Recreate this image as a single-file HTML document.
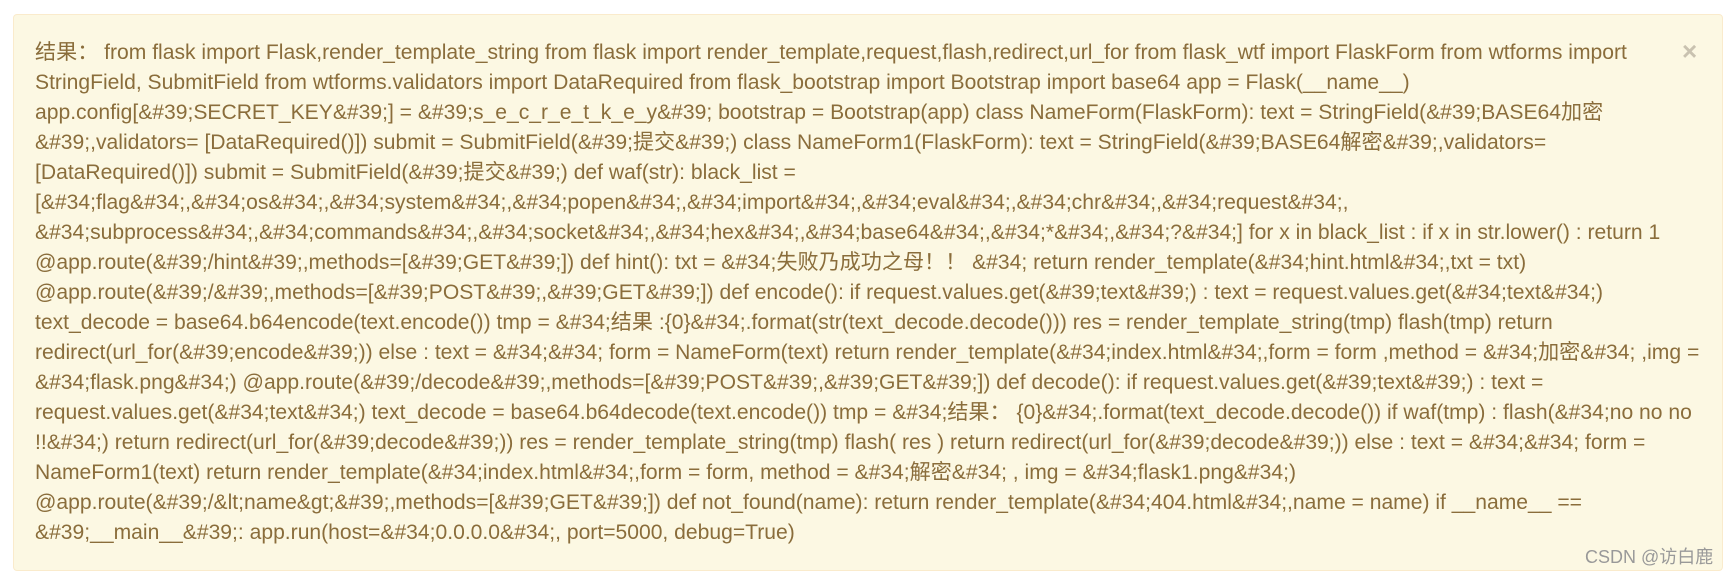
<!DOCTYPE html>
<html><head><meta charset="utf-8"><style>
html,body{margin:0;padding:0;background:#fff;width:1735px;height:573px;overflow:hidden}
.box{position:absolute;left:13px;top:14px;width:1710px;height:557px;background:#fcf8e3;border:1px solid #faebcc;border-radius:4px;box-sizing:border-box}
.t{position:absolute;left:35px;top:38px;font-family:"Liberation Sans","Noto Sans CJK SC",sans-serif;font-size:21.1px;line-height:30px;color:#8a6d3b;white-space:nowrap}
.x{position:absolute;left:1682px;top:36px;font-family:"Liberation Sans",sans-serif;font-size:26px;font-weight:bold;color:#c9c2b0}
.w{position:absolute;left:1585px;top:543px;font-family:"Liberation Sans","Noto Sans CJK SC",sans-serif;font-size:18px;color:#999}
</style></head><body>
<div class="box"></div>
<div class="x">×</div>
<div class="t">结果： from flask import Flask,render_template_string from flask import render_template,request,flash,redirect,url_for from flask_wtf import FlaskForm from wtforms import<br>
StringField, SubmitField from wtforms.validators import DataRequired from flask_bootstrap import Bootstrap import base64 app = Flask(__name__)<br>
app.config[&amp;#39;SECRET_KEY&amp;#39;] = &amp;#39;s_e_c_r_e_t_k_e_y&amp;#39; bootstrap = Bootstrap(app) class NameForm(FlaskForm): text = StringField(&amp;#39;BASE64加密<br>
&amp;#39;,validators= [DataRequired()]) submit = SubmitField(&amp;#39;提交&amp;#39;) class NameForm1(FlaskForm): text = StringField(&amp;#39;BASE64解密&amp;#39;,validators=<br>
[DataRequired()]) submit = SubmitField(&amp;#39;提交&amp;#39;) def waf(str): black_list =<br>
[&amp;#34;flag&amp;#34;,&amp;#34;os&amp;#34;,&amp;#34;system&amp;#34;,&amp;#34;popen&amp;#34;,&amp;#34;import&amp;#34;,&amp;#34;eval&amp;#34;,&amp;#34;chr&amp;#34;,&amp;#34;request&amp;#34;,<br>
&amp;#34;subprocess&amp;#34;,&amp;#34;commands&amp;#34;,&amp;#34;socket&amp;#34;,&amp;#34;hex&amp;#34;,&amp;#34;base64&amp;#34;,&amp;#34;*&amp;#34;,&amp;#34;?&amp;#34;] for x in black_list : if x in str.lower() : return 1<br>
@app.route(&amp;#39;/hint&amp;#39;,methods=[&amp;#39;GET&amp;#39;]) def hint(): txt = &amp;#34;失败乃成功之母！！ &amp;#34; return render_template(&amp;#34;hint.html&amp;#34;,txt = txt)<br>
@app.route(&amp;#39;/&amp;#39;,methods=[&amp;#39;POST&amp;#39;,&amp;#39;GET&amp;#39;]) def encode(): if request.values.get(&amp;#39;text&amp;#39;) : text = request.values.get(&amp;#34;text&amp;#34;)<br>
text_decode = base64.b64encode(text.encode()) tmp = &amp;#34;结果 :{0}&amp;#34;.format(str(text_decode.decode())) res = render_template_string(tmp) flash(tmp) return<br>
redirect(url_for(&amp;#39;encode&amp;#39;)) else : text = &amp;#34;&amp;#34; form = NameForm(text) return render_template(&amp;#34;index.html&amp;#34;,form = form ,method = &amp;#34;加密&amp;#34; ,img =<br>
&amp;#34;flask.png&amp;#34;) @app.route(&amp;#39;/decode&amp;#39;,methods=[&amp;#39;POST&amp;#39;,&amp;#39;GET&amp;#39;]) def decode(): if request.values.get(&amp;#39;text&amp;#39;) : text =<br>
request.values.get(&amp;#34;text&amp;#34;) text_decode = base64.b64decode(text.encode()) tmp = &amp;#34;结果： {0}&amp;#34;.format(text_decode.decode()) if waf(tmp) : flash(&amp;#34;no no no<br>
!!&amp;#34;) return redirect(url_for(&amp;#39;decode&amp;#39;)) res = render_template_string(tmp) flash( res ) return redirect(url_for(&amp;#39;decode&amp;#39;)) else : text = &amp;#34;&amp;#34; form =<br>
NameForm1(text) return render_template(&amp;#34;index.html&amp;#34;,form = form, method = &amp;#34;解密&amp;#34; , img = &amp;#34;flask1.png&amp;#34;)<br>
@app.route(&amp;#39;/&amp;lt;name&amp;gt;&amp;#39;,methods=[&amp;#39;GET&amp;#39;]) def not_found(name): return render_template(&amp;#34;404.html&amp;#34;,name = name) if __name__ ==<br>
&amp;#39;__main__&amp;#39;: app.run(host=&amp;#34;0.0.0.0&amp;#34;, port=5000, debug=True)</div>
<div class="w">CSDN @访白鹿</div>
</body></html>
